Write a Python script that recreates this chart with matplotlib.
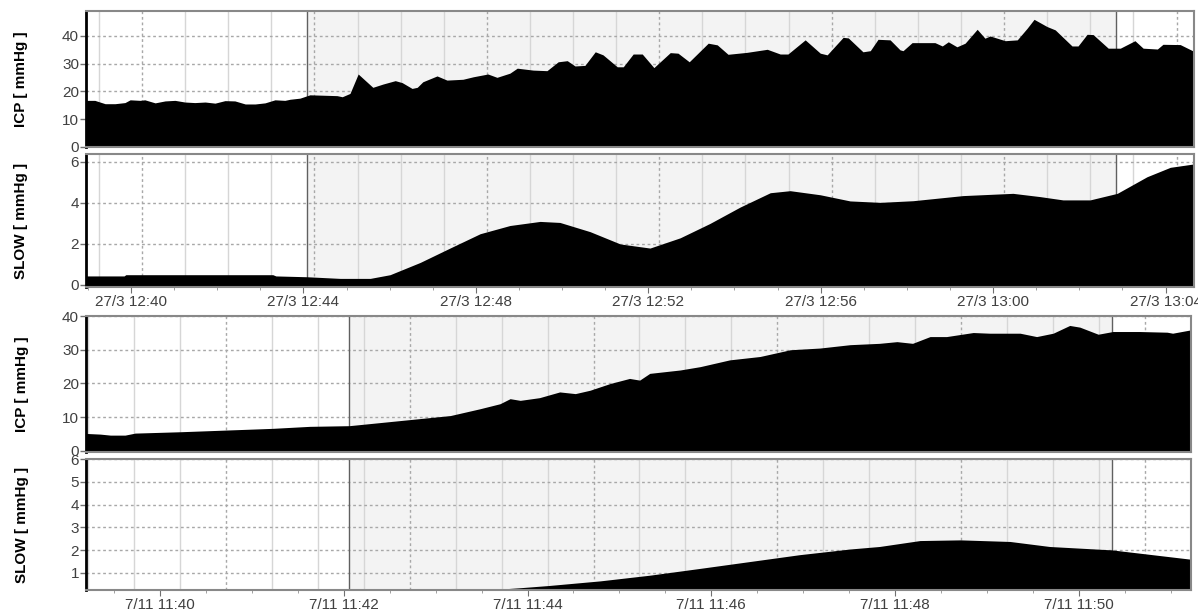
import numpy as np
import matplotlib.pyplot as plt

plt.rcParams['font.family'] = ['Liberation Sans', 'DejaVu Sans']

# ---- top pair (27/3), x in minutes after 12:40 ----
top_ticks = [0, 4, 8, 12, 16, 20, 24]
top_labels = ['27/3 12:40', '27/3 12:44', '27/3 12:48', '27/3 12:52',
              '27/3 12:56', '27/3 13:00', '27/3 13:04']
top_marks = [4.08, 22.85]

icp1_t = [-1.04, -0.84, -0.60, -0.37, -0.14, -0.02, 0.21, 0.32, 0.56, 0.79,
          1.02, 1.25, 1.48, 1.72, 1.95, 2.18, 2.41, 2.65, 2.88, 3.11,
          3.34, 3.57, 3.69, 3.92, 4.15, 4.78, 4.90, 5.08, 5.27, 5.61,
          5.85, 6.13, 6.29, 6.52, 6.64, 6.77, 7.10, 7.33, 7.70, 7.94,
          8.28, 8.49, 8.79, 8.96, 9.33, 9.65, 9.91, 10.12, 10.30, 10.53,
          10.77, 10.95, 11.28, 11.42, 11.65, 11.86, 12.13, 12.51, 12.69, 12.95,
          13.39, 13.60, 13.85, 14.29, 14.76, 15.06, 15.24, 15.64, 15.99, 16.15,
          16.52, 16.64, 16.98, 17.15, 17.33, 17.61, 17.84, 17.91, 18.12, 18.65,
          18.82, 18.96, 19.16, 19.35, 19.63, 19.81, 19.93, 20.28, 20.56, 20.79,
          20.95, 21.25, 21.44, 21.83, 21.97, 22.18, 22.32, 22.67, 22.95, 23.29,
          23.48, 23.81, 23.94, 24.34, 24.64]
icp1_v = [16.8, 16.8, 15.6, 15.6, 16.0, 17.0, 16.8, 17.0, 15.9, 16.6,
          16.8, 16.2, 16.0, 16.2, 15.8, 16.7, 16.6, 15.5, 15.5, 15.9,
          17.0, 16.8, 17.2, 17.6, 18.8, 18.5, 18.1, 19.3, 26.3, 21.5,
          22.7, 23.9, 23.2, 21.1, 21.5, 23.5, 25.6, 24.1, 24.4, 25.3,
          26.3, 25.1, 26.6, 28.4, 27.7, 27.5, 30.7, 31.1, 29.2, 29.4,
          34.3, 33.2, 28.9, 28.9, 33.5, 33.5, 28.6, 34.0, 33.8, 30.7,
          37.4, 36.8, 33.4, 34.1, 35.2, 33.5, 33.5, 38.6, 33.8, 33.2,
          39.5, 39.3, 34.3, 34.7, 38.8, 38.6, 35.0, 34.7, 37.6, 37.6,
          36.4, 37.9, 36.1, 37.4, 42.4, 39.2, 40.0, 38.3, 38.6, 42.8,
          46.0, 43.4, 42.2, 36.4, 36.4, 40.6, 40.5, 35.6, 35.6, 38.3,
          35.6, 35.3, 37.0, 36.9, 34.6]

slow1_t = [-1.04, -0.16, -0.12, 3.29, 3.36, 4.08, 4.85, 5.55, 6.01, 6.71,
           7.40, 8.10, 8.79, 9.49, 9.95, 10.65, 11.35, 12.04, 12.74, 13.43,
           14.13, 14.83, 15.29, 15.99, 16.68, 17.38, 18.14, 19.30, 20.46, 21.09,
           21.62, 22.25, 22.88, 23.57, 24.11, 24.64]
slow1_v = [0.44, 0.44, 0.50, 0.50, 0.44, 0.40, 0.32, 0.32, 0.50, 1.10,
           1.80, 2.50, 2.90, 3.10, 3.05, 2.60, 2.00, 1.80, 2.30, 3.00,
           3.80, 4.50, 4.60, 4.40, 4.10, 4.03, 4.11, 4.36, 4.47, 4.31,
           4.15, 4.15, 4.47, 5.28, 5.74, 5.90]

# ---- bottom pair (7/11), x in minutes after 11:40 ----
bot_ticks = [0, 2, 4, 6, 8, 10]
bot_labels = ['7/11 11:40', '7/11 11:42', '7/11 11:44', '7/11 11:46',
              '7/11 11:48', '7/11 11:50']
bot_marks = [2.06, 10.36]

icp2_t = [-0.805, -0.65, -0.54, -0.38, -0.27, 0.22, 0.72, 1.22, 1.63, 2.06,
          2.61, 3.16, 3.48, 3.70, 3.81, 3.92, 4.13, 4.35, 4.52, 4.68,
          4.90, 5.11, 5.22, 5.33, 5.66, 5.88, 6.20, 6.53, 6.86, 7.18,
          7.51, 7.83, 8.02, 8.19, 8.38, 8.56, 8.85, 9.03, 9.36, 9.54,
          9.72, 9.90, 10.01, 10.21, 10.37, 10.66, 10.96, 11.02, 11.22]
icp2_v = [5.2, 5.0, 4.7, 4.7, 5.3, 5.7, 6.2, 6.7, 7.3, 7.5,
          9.0, 10.5, 12.5, 14.0, 15.5, 15.0, 15.8, 17.5, 17.0, 18.0,
          20.0, 21.5, 21.0, 23.0, 24.0, 25.0, 27.0, 28.0, 30.0, 30.5,
          31.5, 31.9, 32.4, 31.9, 33.9, 33.9, 35.1, 34.9, 34.9, 33.9,
          34.9, 37.2, 36.7, 34.6, 35.4, 35.4, 35.2, 34.9, 35.9]

slow2_t = [-0.805, 3.37, 3.92, 4.24, 4.79, 5.33, 5.88, 6.42, 6.96, 7.51,
           7.83, 8.27, 8.71, 9.25, 9.68, 10.36, 11.22]
slow2_v = [0.0, 0.2, 0.35, 0.45, 0.65, 0.9, 1.2, 1.5, 1.8, 2.05,
           2.16, 2.42, 2.45, 2.38, 2.16, 2.01, 1.60]

W, H = 1198, 612
fig = plt.figure(figsize=(W / 100, H / 100), dpi=100)


def box(l, t, r, b):
    return [l / W, 1 - b / H, (r - l) / W, (b - t) / H]


def panel(ax, t, v, xlim, ylim, yticks, marks, g0, gstep, gmajor, ylabel):
    ax.set_xlim(xlim)
    ax.set_ylim(ylim)
    ax.axvspan(marks[0], marks[1], color='#f3f3f3', lw=0, zorder=0)
    for i, g in enumerate(np.arange(g0 - 40 * gstep, xlim[1], gstep)):
        if g < xlim[0]:
            continue
        if (i % gmajor) == 0:
            ax.axvline(g, color='#a8a8a8', lw=1, ls=(0, (2, 2)), zorder=1)
        else:
            ax.axvline(g, color='#d6d6d6', lw=1, zorder=1)
    for y in yticks:
        ax.axhline(y, color='#a8a8a8', lw=1, ls=(0, (2, 2)), zorder=1)
    for m in marks:
        ax.axvline(m, color='#606060', lw=1, zorder=1.5)
    ax.fill_between(t, v, ylim[0] - 10, color='black', lw=0, zorder=2)
    ax.set_yticks(yticks)
    ax.tick_params(axis='y', direction='out', length=4, width=1, color='#707070',
                   labelsize=11, labelcolor='#404040', pad=1)
    ax.set_ylabel(ylabel, fontsize=11, fontweight='bold')
    ax.yaxis.set_label_coords(-0.052, 0.5)
    for s in ['top', 'right', 'bottom']:
        ax.spines[s].set_color('#888888')
        ax.spines[s].set_linewidth(1.5)
    ax.spines['left'].set_color('black')
    ax.spines['left'].set_linewidth(2)
    for s in ax.spines.values():
        s.set_zorder(4)


ax1 = fig.add_axes(box(86, 11, 1194, 147))
ax2 = fig.add_axes(box(86, 154, 1194, 287))
ax3 = fig.add_axes(box(86, 316, 1191, 452))
ax4 = fig.add_axes(box(86, 459, 1191, 590))

top_xlim = (-1.044, 24.66)
bot_xlim = (-0.805, 11.22)

panel(ax1, icp1_t, icp1_v, top_xlim, (0, 49), [0, 10, 20, 30, 40], top_marks,
      0.255, 1.0, 4, 'ICP [ mmHg ]')
panel(ax2, slow1_t, slow1_v, top_xlim, (-0.1, 6.39), [0, 2, 4, 6], top_marks,
      0.255, 1.0, 4, 'SLOW [ mmHg ]')
panel(ax3, icp2_t, icp2_v, bot_xlim, (-0.3, 40), [0, 10, 20, 30, 40], bot_marks,
      0.718, 0.5, 4, 'ICP [ mmHg ]')
panel(ax4, slow2_t, slow2_v, bot_xlim, (0.25, 6.0), [1, 2, 3, 4, 5, 6], bot_marks,
      0.718, 0.5, 4, 'SLOW [ mmHg ]')

for ax in (ax1, ax3):
    ax.set_xticks([])

ax2.set_xticks(top_ticks)
ax2.set_xticklabels(top_labels)
ax2.set_xticks(np.arange(-1, 25, 1), minor=True)
ax4.set_xticks(bot_ticks)
ax4.set_xticklabels(bot_labels)
ax4.set_xticks(np.arange(-0.5, 11.5, 0.5), minor=True)
for ax in (ax2, ax4):
    ax.tick_params(axis='x', which='major', direction='out', length=4,
                   color='#707070', labelsize=11, labelcolor='#404040', pad=2)
    ax.tick_params(axis='x', which='minor', direction='out', length=2,
                   color='#909090')

fig.savefig('out.png', dpi=100)
